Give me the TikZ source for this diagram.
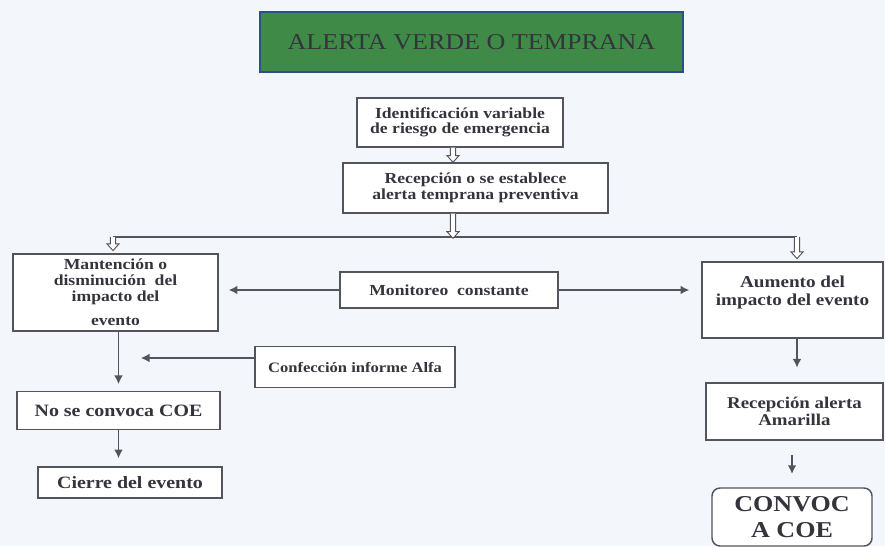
\documentclass[tikz,border=0pt]{standalone}
\usepackage{fontspec}
\usetikzlibrary{arrows.meta,calc}
\newfontfamily\boxfont{Liberation Serif}[FakeStretch=1.15]

\definecolor{fondo}{RGB}{243,246,251}
\definecolor{bordegris}{RGB}{84,84,92}
\definecolor{textogris}{RGB}{52,52,60}
\definecolor{verdetit}{RGB}{62,138,70}
\definecolor{azultit}{RGB}{45,78,140}

\tikzset{
  caja/.style={draw=bordegris, line width=1.1pt, fill=white, text=textogris,
    font=\boxfont\bfseries\fontsize{11.5}{12}\selectfont, align=center, inner sep=2pt},
  flecha/.style={draw=bordegris, line width=1.1pt, -{Latex[length=6.5pt,width=6.5pt]}},
  % flecha hueca hacia abajo
  hueca/.style={draw=bordegris, line width=0.7pt, fill=white,
    to path={let \p1=(\tikztostart), \p2=(\tikztotarget) in
      (\x1-2pt,\y1) -- (\x1-2pt,\y2+5pt) -- (\x1-4.5pt,\y2+5pt) -- (\x1,\y2)
      -- (\x1+4.5pt,\y2+5pt) -- (\x1+2pt,\y2+5pt) -- (\x1+2pt,\y1)}}
}

\begin{document}
\begin{tikzpicture}[x=0.75pt,y=-0.75pt]
    \useasboundingbox (0,0) rectangle (885,546);
    \fill[fondo] (0,0) rectangle (885,546);

    % Titulo
    \node[draw=azultit, line width=1.5pt, fill=verdetit, text=textogris,
      font=\boxfont\fontsize{17}{20}\selectfont,
      minimum width=317pt, minimum height=45pt] (titulo) at (471.5,42) {ALERTA VERDE O TEMPRANA};

    % Cajas del centro
    \node[caja, minimum width=154.5pt, minimum height=36.75pt,
      font=\boxfont\bfseries\fontsize{11.5}{11.3}\selectfont] (ident) at (460,122.5)
      {Identificación variable\\de riesgo de emergencia};
    \node[caja, minimum width=198.75pt, minimum height=37.5pt] (recep) at (475.5,188)
      {Recepción o se establece\\alerta temprana preventiva};
    \node[caja, minimum width=163.5pt, minimum height=27pt] (monit) at (449,290)
      {Monitoreo~~constante};
    \node[caja, minimum width=150pt, minimum height=30.75pt,
      font=\boxfont\bfseries\fontsize{10.8}{12}\selectfont] (confe) at (355,367)
      {Confección informe Alfa};

    % Rama izquierda
    \node[caja, minimum width=153.75pt, minimum height=57.75pt] (mant) at (115.5,292.5)
      {Mantención o\\disminución~~del\\impacto del\\[6pt]evento};
    \node[caja, minimum width=152.25pt, minimum height=28.5pt,
      font=\boxfont\bfseries\fontsize{13}{14}\selectfont] (nocoe) at (118.5,410.5)
      {No se convoca COE};
    \node[caja, minimum width=138pt, minimum height=23.25pt,
      font=\boxfont\bfseries\fontsize{13}{14}\selectfont] (cierre) at (130,482.5)
      {Cierre del evento};

    % Rama derecha
    \node[caja, minimum width=135.75pt, minimum height=57pt,
      font=\boxfont\bfseries\fontsize{12.5}{13.5}\selectfont] (aum) at (792.5,300)
      {Aumento del\\impacto del evento\\~};
    \node[caja, minimum width=132.75pt, minimum height=42.75pt,
      font=\boxfont\bfseries\fontsize{12.3}{12.8}\selectfont] (amar) at (794.5,411.5)
      {Recepción alerta\\Amarilla};
    \node[caja, rounded corners=6pt, minimum width=120pt, minimum height=43.5pt,
      font=\boxfont\bfseries\fontsize{17}{20}\selectfont] (convoc) at (792,517)
      {CONVOC\\A COE};

    % Reparto
    \coordinate (split) at (453,237);
    \coordinate (izq) at (113,237);
    \coordinate (der) at (797,237);
    \draw[bordegris, line width=1.1pt] (izq) -- (der);

    \draw[hueca] (ident.south -| split) to (recep.north -| split);
    \draw[hueca] (recep.south -| split) to ([yshift=-1pt]split);
    \draw[hueca] (izq) to ([yshift=2pt]mant.north -| izq);
    \draw[hueca] (der) to ([yshift=2pt]aum.north -| der);

    % Flechas
    \draw[flecha] (monit.west) -- ([xshift=7.5pt]monit.west -| mant.east);
    \draw[flecha] (monit.east) -- ([xshift=-9pt]monit.east -| aum.west);
    \draw[flecha] ([yshift=6.75pt]confe.west) -- ([yshift=6.75pt,xshift=19pt]confe.west -| mant.south);

    \draw[flecha, shorten >=5pt] (mant.south -| nocoe) -- (nocoe.north);
    \draw[flecha, shorten >=6pt] (nocoe.south) -- (nocoe.south |- cierre.north);
    \draw[flecha, shorten >=11pt] (aum.south -| der) -- (amar.north -| der);
    \draw[flecha, shorten <=11pt, shorten >=10pt] (amar.south -| convoc) -- (convoc.north);
  \end{tikzpicture}
\end{document}
